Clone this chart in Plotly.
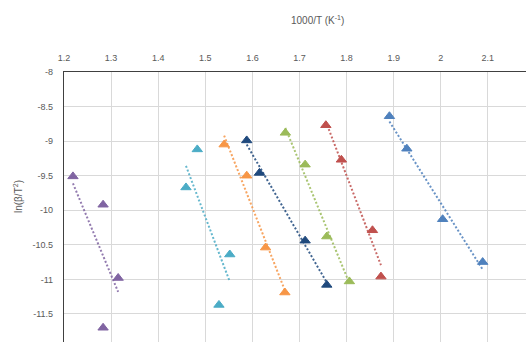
import numpy as np
import plotly.graph_objects as go

# 1000/T (K^-1) and ln(beta/T^2) for each heating-rate set
series_names = ["S1", "S2", "S3", "S4", "S5", "S6", "S7"]
series_colors = ["#8064A2", "#4BACC6", "#F79646", "#1F497D", "#9BBB59", "#C0504D", "#4F81BD"]

x_s1 = [1.219, 1.283, 1.315, 1.283]
y_s1 = [-9.51, -9.92, -10.98, -11.70]

x_s2 = [1.483, 1.459, 1.552, 1.529]
y_s2 = [-9.12, -9.67, -10.64, -11.37]

x_s3 = [1.540, 1.588, 1.628, 1.669]
y_s3 = [-9.05, -9.50, -10.54, -11.19]

x_s4 = [1.588, 1.615, 1.712, 1.758]
y_s4 = [-8.99, -9.46, -10.44, -11.08]

x_s5 = [1.670, 1.712, 1.758, 1.806]
y_s5 = [-8.88, -9.34, -10.38, -11.03]

x_s6 = [1.756, 1.789, 1.855, 1.873]
y_s6 = [-8.77, -9.27, -10.29, -10.96]

x_s7 = [1.891, 1.928, 2.004, 2.089]
y_s7 = [-8.64, -9.11, -10.13, -10.75]

x_ticks = [1.2, 1.3, 1.4, 1.5, 1.6, 1.7, 1.8, 1.9, 2.0, 2.1]
x_tick_text = ["1.2", "1.3", "1.4", "1.5", "1.6", "1.7", "1.8", "1.9", "2", "2.1"]
y_ticks = [-8, -8.5, -9, -9.5, -10, -10.5, -11, -11.5, -12]
y_tick_text = ["-8", "-8.5", "-9", "-9.5", "-10", "-10.5", "-11", "-11.5", "-12"]

xs = [x_s1, x_s2, x_s3, x_s4, x_s5, x_s6, x_s7]
ys = [y_s1, y_s2, y_s3, y_s4, y_s5, y_s6, y_s7]

fig = go.Figure()
for name, color, xv, yv in zip(series_names, series_colors, xs, ys):
    xv = np.array(xv)
    yv = np.array(yv)
    # least-squares linear trendline across the data span
    slope, icpt = np.polyfit(xv, yv, 1)
    xt = np.array([xv.min(), xv.max()])
    fig.add_trace(go.Scatter(
        x=xt, y=slope * xt + icpt, mode="lines",
        line=dict(color=color, width=2, dash="2px,2px"),
        opacity=0.85, showlegend=False, hoverinfo="skip"))
    fig.add_trace(go.Scatter(
        x=xv, y=yv, mode="markers", name=name,
        marker=dict(symbol="triangle-up", size=9, color=color,
                    line=dict(color=color, width=1)),
        showlegend=False))

text_color = "#595959"
font_family = "Liberation Sans, Arial, sans-serif"

fig.update_layout(
    width=526, height=342,
    margin=dict(l=64, r=0, t=72, b=0),
    paper_bgcolor="white", plot_bgcolor="white",
    font=dict(family=font_family, size=9, color=text_color),
    xaxis=dict(
        side="top", range=[1.2, 2.181],
        tickvals=x_ticks, ticktext=x_tick_text,
        ticks="outside", ticklen=6, tickcolor="rgba(0,0,0,0)",
        showgrid=True, gridcolor="#D9D9D9", gridwidth=1,
        showline=True, linecolor="#404040", linewidth=1.25,
        zeroline=False,
    ),
    yaxis=dict(
        range=[-11.906, -8],
        tickvals=y_ticks, ticktext=y_tick_text,
        ticks="outside", ticklen=8, tickcolor="rgba(0,0,0,0)",
        showgrid=True, gridcolor="#D9D9D9", gridwidth=1,
        showline=True, linecolor="#404040", linewidth=1.25,
        zeroline=False,
    ),
    annotations=[
        dict(text="1000/T (K<sup>-1</sup>)", xref="paper", yref="paper",
             x=(317 - 64) / 462, y=1 + (72 - 20) / 270, showarrow=False,
             xanchor="center", yanchor="middle",
             font=dict(size=10, color=text_color)),
        dict(text="ln(β/T<sup>2</sup>)", xref="paper", yref="paper",
             x=-(64 - 18) / 462, y=1 - (197 - 72) / 270, showarrow=False,
             xanchor="center", yanchor="middle", textangle=-90,
             font=dict(size=10, color=text_color)),
    ],
)

fig.write_html("out.html")
